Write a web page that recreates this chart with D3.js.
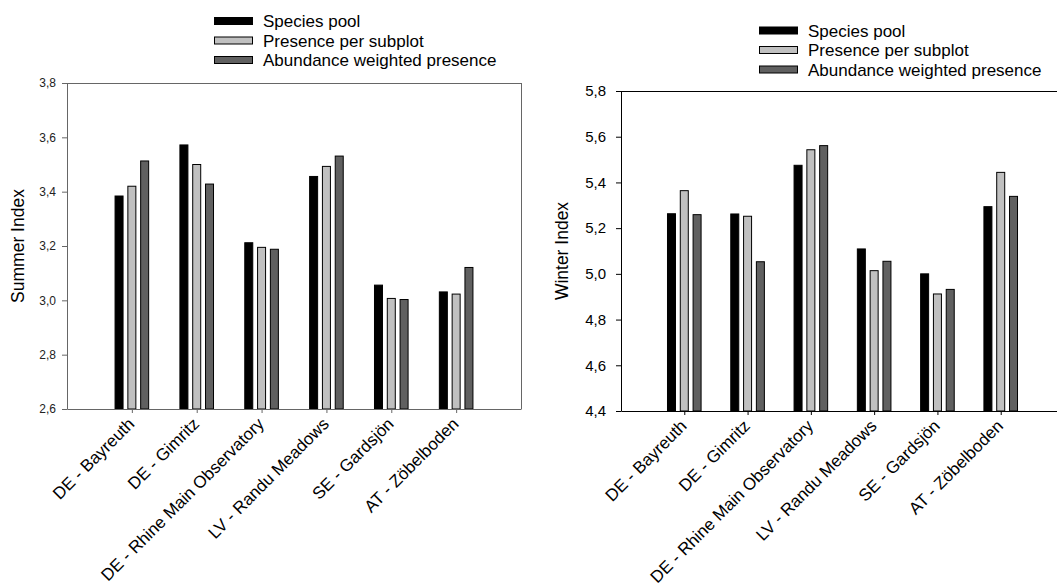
<!DOCTYPE html>
<html>
<head>
<meta charset="utf-8">
<script src="https://cdn.jsdelivr.net/npm/d3@7"></script>
<style>
  body { margin: 0; background: #fff; }
  svg { display: block; font-family: "Liberation Sans", Arial, sans-serif; }
</style>
</head>
<body>
<svg id="chart" width="1057" height="586"></svg>
<script>
// sites on the x axis
const sites = ["DE - Bayreuth", "DE - Gimritz", "DE - Rhine Main Observatory", "LV - Randu Meadows", "SE - Gardsjön", "AT - Zöbelboden"];
const seriesNames = ["Species pool", "Presence per subplot", "Abundance weighted presence"];

// summer index values, one array per series
const summerPool = [3.384, 3.572, 3.212, 3.456, 3.056, 3.031];
const summerPresence = [3.420, 3.500, 3.195, 3.493, 3.007, 3.023];
const summerAbundance = [3.513, 3.428, 3.188, 3.531, 3.003, 3.121];

// winter index values
const winterPool = [5.263, 5.262, 5.475, 5.109, 5.000, 5.294];
const winterPresence = [5.364, 5.252, 5.543, 5.014, 4.912, 5.444];
const winterAbundance = [5.259, 5.053, 5.561, 5.055, 4.932, 5.339];

const summerTicks = [2.6, 2.8, 3.0, 3.2, 3.4, 3.6, 3.8];
const summerTickLabels = ["2,6", "2,8", "3,0", "3,2", "3,4", "3,6", "3,8"];
const winterTicks = [4.4, 4.6, 4.8, 5.0, 5.2, 5.4, 5.6, 5.8];
const winterTickLabels = ["4,4", "4,6", "4,8", "5,0", "5,2", "5,4", "5,6", "5,8"];

const fills = ["#000000", "#c0c0c0", "#606060"];
const font = "Liberation Sans, Arial, sans-serif";

const svg = d3.select("#chart");

function drawPanel(opt) {
    const g = svg.append("g");
    const values = [opt.pool, opt.presence, opt.abundance];

    const x = d3.scalePoint().domain(sites).range([opt.left, opt.right]).padding(1);
    const inner = d3.scaleBand().domain(seriesNames).range([-19.2, 19.2])
        .paddingInner(0.375).paddingOuter(0.1875);
    const y = d3.scaleLinear().domain(d3.extent(opt.ticks)).range([opt.bottom, opt.top]);

    // frame lines (top and right)
    g.append("line")
        .attr("x1", opt.left).attr("x2", opt.right)
        .attr("y1", opt.top + 0.5).attr("y2", opt.top + 0.5)
        .attr("stroke", opt.lineColor);
    if (opt.rightBorder) {
        g.append("line")
            .attr("x1", opt.right + 0.5).attr("x2", opt.right + 0.5)
            .attr("y1", opt.top).attr("y2", opt.bottom)
            .attr("stroke", opt.lineColor);
    }

    // bars
    seriesNames.forEach((s, si) => {
        g.append("g").selectAll("rect")
            .data(values[si])
            .enter()
            .append("rect")
            .attr("x", (d, i) => x(sites[i]) + inner(s))
            .attr("y", d => y(d))
            .attr("width", inner.bandwidth())
            .attr("height", d => y.range()[0] - y(d))
            .attr("fill", fills[si])
            .attr("stroke", "#000")
            .attr("stroke-width", 1);
    });

    // y axis
    const yAxis = g.append("g")
        .attr("transform", `translate(${opt.left},0)`)
        .call(d3.axisLeft(y).tickValues(opt.ticks).tickSize(5).tickSizeOuter(0)
            .tickFormat((d, i) => opt.tickLabels[i]));
    yAxis.select(".domain").attr("stroke", opt.lineColor);
    yAxis.selectAll(".tick line").attr("stroke", opt.lineColor);
    yAxis.selectAll("text")
        .attr("font-size", opt.tickFont)
        .attr("fill", opt.textColor)
        .attr("x", opt.tickLabelX)
        .attr("font-family", font);

    // x axis
    const xAxis = g.append("g")
        .attr("transform", `translate(0,${opt.bottom})`)
        .call(d3.axisBottom(x).tickSize(4).tickSizeOuter(0));
    xAxis.select(".domain").attr("stroke", opt.lineColor);
    xAxis.selectAll(".tick line").attr("stroke", opt.lineColor);
    xAxis.selectAll("text")
        .attr("font-size", 17)
        .attr("fill", "#000")
        .attr("font-family", font)
        .attr("text-anchor", "end")
        .attr("x", null).attr("y", null).attr("dy", null)
        .attr("transform", "translate(3,16) rotate(-45)");

    // y title
    g.append("text")
        .attr("transform", `translate(${opt.titleX},${(opt.top + opt.bottom) / 2}) rotate(-90)`)
        .attr("text-anchor", "middle")
        .attr("dy", "0.35em")
        .attr("font-size", 17.5)
        .text(opt.title);

    // legend
    const legend = g.append("g").attr("transform", `translate(${opt.legendX},${opt.legendY})`);
    seriesNames.forEach((s, i) => {
        legend.append("rect")
            .attr("x", 0.5).attr("y", i * 19.5 - 3.5)
            .attr("width", 38).attr("height", 7)
            .attr("fill", fills[i])
            .attr("stroke", "#000");
        legend.append("text")
            .attr("x", 49)
            .attr("y", i * 19.5 + 6)
            .attr("font-size", 17)
            .text(s);
    });
}

drawPanel({
    pool: summerPool, presence: summerPresence, abundance: summerAbundance,
    ticks: summerTicks, tickLabels: summerTickLabels,
    left: 67, right: 521, top: 83, bottom: 409,
    lineColor: "#666", textColor: "#222", tickFont: 12, tickLabelX: -11, rightBorder: true,
    title: "Summer Index", titleX: 18,
    legendX: 214, legendY: 21
});

drawPanel({
    pool: winterPool, presence: winterPresence, abundance: winterAbundance,
    ticks: winterTicks, tickLabels: winterTickLabels,
    left: 621, right: 1064, top: 91, bottom: 411,
    lineColor: "#000", textColor: "#000", tickFont: 15, tickLabelX: -15, rightBorder: false,
    title: "Winter Index", titleX: 562,
    legendX: 759, legendY: 30.5
});
</script>
</body>
</html>
